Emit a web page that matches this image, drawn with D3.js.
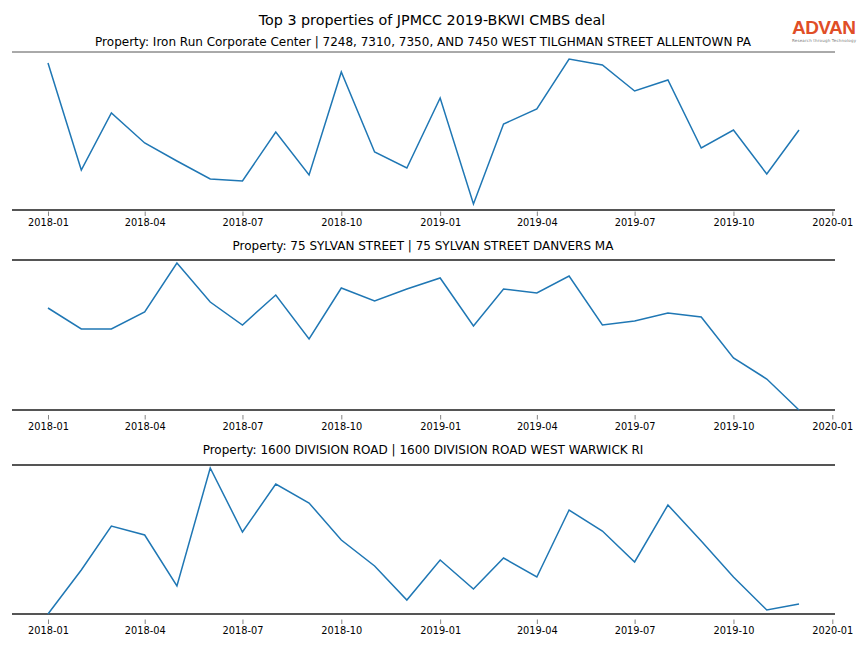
<!DOCTYPE html>
<html>
<head>
<meta charset="utf-8">
<script src="https://cdn.jsdelivr.net/npm/d3@7"></script>
<style>
  html, body { margin: 0; padding: 0; background: #fff; }
  svg { display: block; font-family: "DejaVu Sans", sans-serif; }
</style>
</head>
<body>
<svg id="chart" width="864" height="648"></svg>
<script>
// ---- data ----
const months = ["2018-01","2018-02","2018-03","2018-04","2018-05","2018-06","2018-07","2018-08","2018-09","2018-10","2018-11","2018-12",
                "2019-01","2019-02","2019-03","2019-04","2019-05","2019-06","2019-07","2019-08","2019-09","2019-10","2019-11","2019-12"];
const mainTitle = "Top 3 properties of JPMCC 2019-BKWI CMBS deal";
const propertyTitles = [
  "Property: Iron Run Corporate Center | 7248, 7310, 7350, AND 7450 WEST TILGHMAN STREET ALLENTOWN PA",
  "Property: 75 SYLVAN STREET | 75 SYLVAN STREET DANVERS MA",
  "Property: 1600 DIVISION ROAD | 1600 DIVISION ROAD WEST WARWICK RI"
];
const ironRunVisits = [147, 40, 97, 67, 49, 31, 29, 78, 35, 138, 58, 42, 112, 6, 86, 101, 151, 145, 119, 130, 62, 80, 36, 80];
const sylvanVisits  = [102, 81, 81, 98, 147, 108, 85, 115, 71, 122, 109, 121, 132, 84, 121, 117, 134, 85, 89, 97, 93, 52, 31, 0];
const divisionVisits = [0, 44, 88, 79, 28, 146, 82, 130, 111, 74, 48, 14, 54, 25, 56, 37, 104, 83, 52, 109, 73, 37, 4, 10];
const seriesList = [ironRunVisits, sylvanVisits, divisionVisits];
const yDomains = [[0, 158], [0, 150], [0, 149]];
const xDomain = ["2017-11-28T12", "2020-01-03T12"];
const tickFormat = "%Y-%m";

// ---- layout ----
const svg = d3.select("#chart");
const parse = d3.timeParse("%Y-%m");
const parseHour = d3.timeParse("%Y-%m-%dT%H");
const dates = months.map(parse);
const panels = [
  {top: 52, bottom: 210, topW: 1, titleY: 46, tickShift: 1.5},
  {top: 260, bottom: 410, topW: 2, titleY: 250, tickShift: 5},
  {top: 465, bottom: 614, topW: 2, titleY: 454, tickShift: 5.5}
];
const left = 12, right = 835;

const x = d3.scaleTime().domain(xDomain.map(parseHour)).range([left, right]);

svg.append("text").attr("x", 432).attr("y", 24.5).attr("text-anchor", "middle")
  .attr("font-size", 14.3).attr("fill", "#000").text(mainTitle);

panels.forEach((p, i) => {
  const y = d3.scaleLinear().domain(yDomains[i]).range([p.bottom, p.top]);
  const g = svg.append("g");

  g.append("text").attr("x", 423).attr("y", p.titleY).attr("text-anchor", "middle")
    .attr("font-size", 12).attr("fill", "#000").text(propertyTitles[i]);

  // x axis
  const ax = g.append("g").attr("transform", `translate(0,${p.bottom + p.tickShift})`)
    .call(d3.axisBottom(x).ticks(d3.timeMonth.every(3)).tickFormat(d3.timeFormat(tickFormat))
      .tickSize(4.5).tickPadding(3.5));
  ax.select(".domain").remove();
  ax.selectAll(".tick line").attr("stroke", "#666").attr("stroke-width", 0.8);
  ax.selectAll(".tick text").attr("font-size", 9.8).attr("fill", "#000")
    .attr("font-family", "DejaVu Sans, sans-serif");

  // spines
  g.append("line").attr("x1", left).attr("x2", right).attr("y1", p.top).attr("y2", p.top)
    .attr("stroke", "#555").attr("stroke-width", p.topW);
  g.append("line").attr("x1", left).attr("x2", right).attr("y1", p.bottom).attr("y2", p.bottom)
    .attr("stroke", "#555").attr("stroke-width", 2);

  // line
  const line = d3.line().x((d, j) => x(dates[j])).y(d => y(d));
  g.append("path").datum(seriesList[i]).attr("d", line)
    .attr("fill", "none").attr("stroke", "#1f77b4").attr("stroke-width", 1.5)
    .attr("stroke-linejoin", "miter");
});

// logo
const logo = svg.append("g");
logo.append("text").attr("x", 824).attr("y", 33.5).attr("text-anchor", "middle")
  .attr("font-family", "Liberation Sans, Arial, sans-serif").attr("font-size", 19).attr("font-weight", "bold")
  .attr("fill", "#e04e27").attr("textLength", 64).text("ADVAN");
logo.append("text").attr("x", 824).attr("y", 41.5).attr("text-anchor", "middle")
  .attr("font-size", 4).attr("fill", "#777").attr("textLength", 64).text("Research through Technology");
</script>
</body>
</html>
